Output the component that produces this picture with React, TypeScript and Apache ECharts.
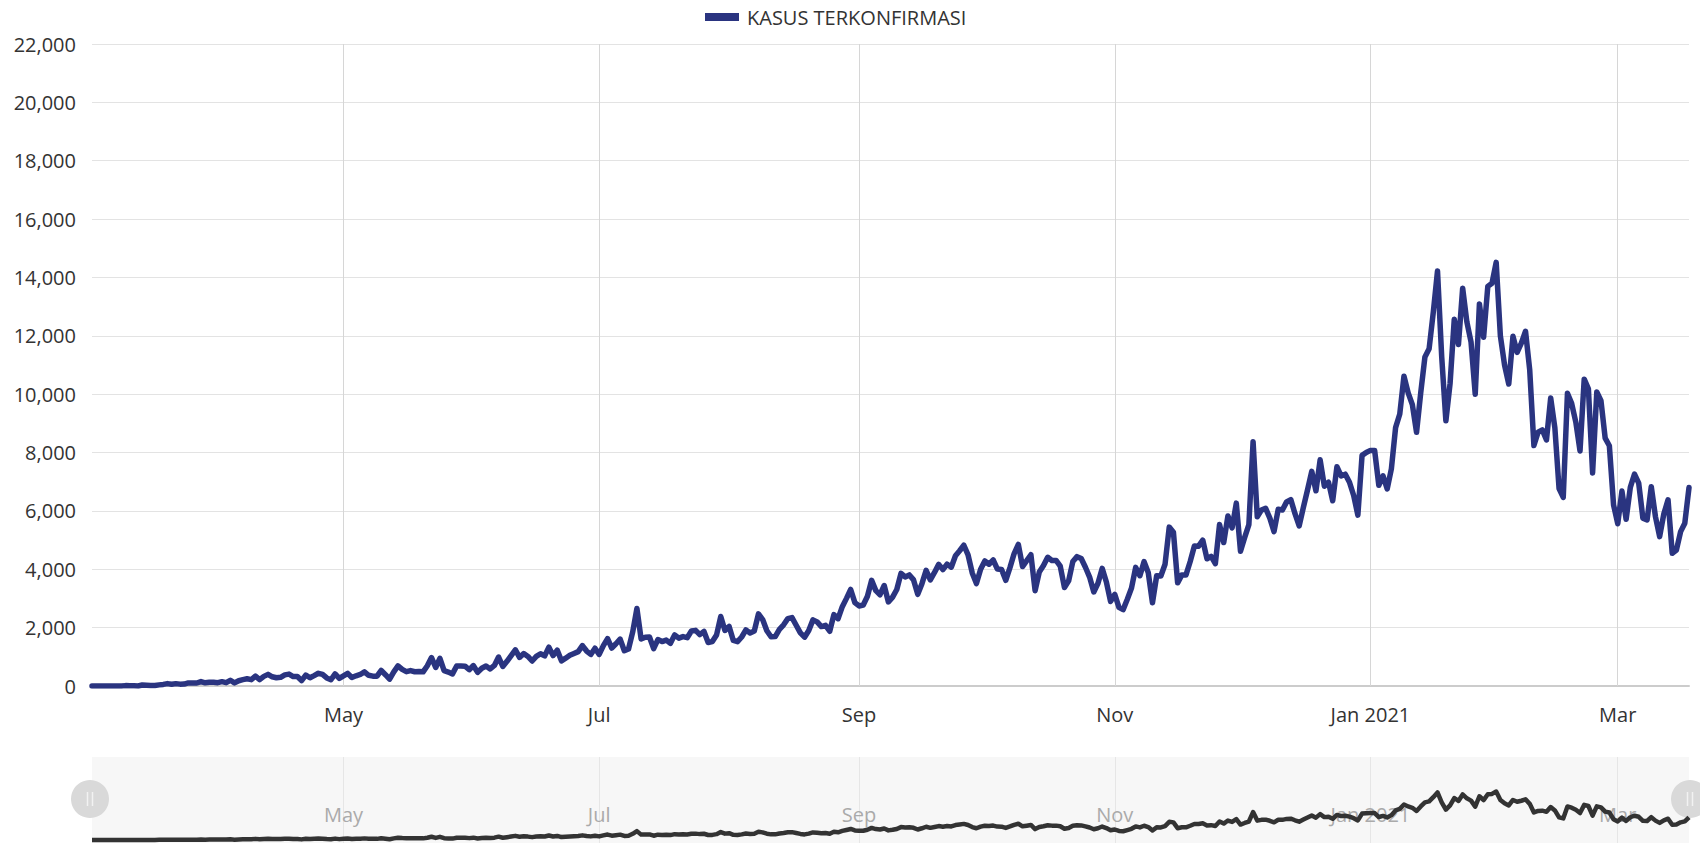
import React, { useEffect, useRef } from 'react';
import * as echarts from 'echarts';

const seriesName = 'KASUS TERKONFIRMASI';

// Daily confirmed cases, one array per month (picture dates)
const mar2020 = [0, 2, 0, 0, 0, 2, 0, 2, 13, 8, 7, 0, 35, 27, 21, 17, 38, 55, 82, 60, 81, 64, 65, 107, 104, 103, 153, 109, 130, 129];
const apr2020 = [114, 149, 113, 196, 106, 181, 218, 247, 218, 337, 219, 330, 399, 316, 282, 297, 380, 407, 325, 327, 185, 375, 283, 357, 436, 396, 275, 214, 415, 260];
const may2020 = [347, 433, 292, 349, 395, 484, 367, 338, 336, 533, 387, 233, 484, 689, 568, 490, 529, 489, 496, 486, 693, 973, 634, 949, 526, 479, 415, 686, 687, 678, 557];
const jun2020 = [700, 467, 609, 684, 585, 703, 993, 672, 847, 1043, 1241, 979, 1111, 1014, 857, 1017, 1106, 1031, 1331, 1041, 1226, 862, 954, 1051, 1113, 1178, 1385, 1198, 1082, 1293];
const jul2020 = [1082, 1385, 1624, 1301, 1447, 1607, 1209, 1268, 1853, 2657, 1611, 1671, 1681, 1282, 1591, 1522, 1574, 1462, 1752, 1639, 1693, 1655, 1882, 1906, 1761, 1868, 1492, 1525, 1748, 2381, 1904];
const aug2020 = [2040, 1560, 1519, 1679, 1922, 1815, 1882, 2473, 2277, 1893, 1687, 1693, 1942, 2098, 2307, 2345, 2081, 1821, 1673, 1902, 2266, 2197, 2037, 2079, 1877, 2447, 2306, 2719, 3003, 3308, 2858];
const sep2020 = [2743, 2775, 3075, 3622, 3269, 3128, 3444, 2880, 3046, 3307, 3861, 3737, 3806, 3636, 3141, 3507, 3963, 3635, 3891, 4168, 3989, 4176, 4071, 4465, 4634, 4823, 4494, 3874, 3509, 4002];
const oct2020 = [4284, 4174, 4317, 4007, 3992, 3622, 4056, 4538, 4850, 4094, 4294, 4497, 3267, 3906, 4127, 4411, 4301, 4301, 4105, 3373, 3602, 4267, 4432, 4369, 4070, 3732, 3222, 3520, 4029, 3565, 2897];
const nov2020 = [3143, 2696, 2618, 2973, 3356, 4065, 3778, 4262, 3880, 2853, 3779, 3770, 4173, 5444, 5272, 3535, 3807, 3807, 4265, 4798, 4792, 4998, 4360, 4442, 4192, 5534, 4917, 5828, 5418, 6267];
const dec2020 = [4617, 5092, 5533, 8369, 5803, 6027, 6089, 5754, 5292, 6058, 6033, 6310, 6388, 5905, 5489, 6120, 6725, 7354, 6689, 7751, 6848, 6982, 6347, 7514, 7199, 7259, 6982, 6528, 5854, 7903, 8002];
const jan2021 = [8074, 8072, 6877, 7203, 6753, 7445, 8854, 9321, 10617, 10046, 9640, 8692, 10047, 11278, 11557, 12818, 14224, 11287, 9086, 10365, 12568, 11703, 13632, 12482, 11788, 9994, 13094, 11948, 13695, 13802, 14518];
const feb2021 = [12001, 10994, 10347, 11984, 11434, 11749, 12156, 10827, 8242, 8700, 8776, 8435, 9869, 8844, 6765, 6462, 10029, 9687, 9039, 8054, 10514, 10184, 7300, 10074, 9775, 8493, 8232, 6208];
const mar2021 = [5560, 6680, 5712, 6808, 7264, 6950, 5750, 5690, 6830, 5800, 5120, 5900, 6380, 4550, 4660, 5290, 5580, 6800];

// month blocks: [year, monthIndex, first day, values]
const monthBlocks: [number, number, number, number[]][] = [
  [2020, 2, 2, mar2020],
  [2020, 3, 1, apr2020],
  [2020, 4, 1, may2020],
  [2020, 5, 1, jun2020],
  [2020, 6, 1, jul2020],
  [2020, 7, 1, aug2020],
  [2020, 8, 1, sep2020],
  [2020, 9, 1, oct2020],
  [2020, 10, 1, nov2020],
  [2020, 11, 1, dec2020],
  [2021, 0, 1, jan2021],
  [2021, 1, 1, feb2021],
  [2021, 2, 1, mar2021],
];

const xTickDates: [number, number, number][] = [
  [2020, 4, 1], [2020, 6, 1], [2020, 8, 1], [2020, 10, 1], [2021, 0, 1], [2021, 2, 1],
];
const xTickLabels = ['May', 'Jul', 'Sep', 'Nov', 'Jan 2021', 'Mar'];

const FONT = '"Open Sans", "Noto Sans", sans-serif';

export default function App() {
  const ref = useRef<HTMLDivElement>(null);

  useEffect(() => {
    if (!ref.current) return;
    const chart = echarts.init(ref.current, undefined, { renderer: 'svg' });

    const data: [number, number][] = [];
    monthBlocks.forEach(([y, m, d0, vals]) => {
      vals.forEach((v, i) => {
        data.push([new Date(y, m, d0 + i).getTime(), v]);
      });
    });
    const tMin = data[0][0];
    const tMax = data[data.length - 1][0];
    const tickTs = xTickDates.map(([y, m, d]) => new Date(y, m, d).getTime());

    const monthLines = (labelColor: string, lineColor: string, labelOffsetY: number) => ({
      silent: true,
      symbol: 'none',
      animation: false,
      lineStyle: { type: 'solid', color: lineColor, width: 1 },
      emphasis: { disabled: true },
      label: { show: false },
      data: tickTs.map((t, i) => ({
        xAxis: t,
        label: {
          show: true,
          position: 'start',
          formatter: xTickLabels[i],
          color: labelColor,
          fontSize: 20,
          fontFamily: FONT,
          distance: 0,
          offset: [0, labelOffsetY],
        },
      })),
    });

    chart.setOption({
      animation: false,
      backgroundColor: '#ffffff',
      textStyle: { fontFamily: FONT },
      legend: {
        data: [seriesName],
        left: 700,
        top: 2,
        icon: 'rect',
        itemWidth: 34,
        itemHeight: 8,
        textStyle: { fontSize: 20, color: '#333333', fontFamily: FONT, padding: [0, 0, 0, 3] },
      },
      grid: [
        { left: 92, right: 11, top: 44, height: 642, containLabel: false },
        {
          left: 92, right: 11, top: 757, height: 86, show: true,
          backgroundColor: '#f7f7f7', borderWidth: 0,
        },
      ],
      xAxis: [
        {
          type: 'value',
          gridIndex: 0,
          min: tMin,
          max: tMax,
          axisLine: { show: true, onZero: false, lineStyle: { color: '#cccccc', width: 2 } },
          axisTick: { show: false },
          axisLabel: { show: false },
          splitLine: { show: false },
        },
        {
          type: 'value',
          gridIndex: 1,
          min: tMin,
          max: tMax,
          axisLine: { show: false },
          axisTick: { show: false },
          axisLabel: { show: false },
          splitLine: { show: false },
        },
      ],
      yAxis: [
        {
          type: 'value',
          gridIndex: 0,
          min: 0,
          max: 22000,
          interval: 2000,
          axisLine: { show: false },
          axisTick: { show: false },
          axisLabel: {
            fontSize: 20,
            color: '#333333',
            fontFamily: FONT,
            margin: 16,
            formatter: (v: number) => v.toLocaleString('en-US'),
          },
          splitLine: { show: true, lineStyle: { color: '#e3e3e3', width: 1 } },
        },
        {
          type: 'value',
          gridIndex: 1,
          min: -900,
          max: 24850,
          show: false,
          splitLine: { show: false },
        },
      ],
      series: [
        {
          name: seriesName,
          type: 'line',
          xAxisIndex: 0,
          yAxisIndex: 0,
          data,
          showSymbol: false,
          symbol: 'none',
          lineStyle: { color: '#2a3480', width: 5.5, join: 'round', cap: 'round' },
          itemStyle: { color: '#2a3480' },
          markLine: { ...monthLines('#333333', '#d6d6d6', 18), z: 1 },
          z: 3,
        },
        {
          name: 'overview',
          type: 'line',
          xAxisIndex: 1,
          yAxisIndex: 1,
          data,
          showSymbol: false,
          symbol: 'none',
          lineStyle: { color: '#333333', width: 4.5, join: 'round' },
          itemStyle: { color: '#333333' },
          markLine: { ...monthLines('#aaaaaa', '#e6e6e6', -39), z: 1 },
          z: 3,
        },
      ],
      graphic: [
        {
          type: 'group',
          left: 71,
          top: 780,
          z: 10,
          children: [
            { type: 'circle', shape: { cx: 19, cy: 19, r: 19 }, style: { fill: '#d9d9d9' } },
            { type: 'line', shape: { x1: 16.5, y1: 12, x2: 16.5, y2: 26 }, style: { stroke: '#f2f2f2', lineWidth: 1.5 } },
            { type: 'line', shape: { x1: 21.5, y1: 12, x2: 21.5, y2: 26 }, style: { stroke: '#f2f2f2', lineWidth: 1.5 } },
          ],
        },
        {
          type: 'group',
          left: 1671,
          top: 780,
          z: 10,
          children: [
            { type: 'circle', shape: { cx: 19, cy: 19, r: 19 }, style: { fill: '#d9d9d9' } },
            { type: 'line', shape: { x1: 16.5, y1: 12, x2: 16.5, y2: 26 }, style: { stroke: '#f2f2f2', lineWidth: 1.5 } },
            { type: 'line', shape: { x1: 21.5, y1: 12, x2: 21.5, y2: 26 }, style: { stroke: '#f2f2f2', lineWidth: 1.5 } },
          ],
        },
      ],
    });

    return () => chart.dispose();
  }, []);

  return (
    <div
      ref={ref}
      style={{ position: 'fixed', left: 0, top: 0, width: 1700, height: 843, background: '#fff' }}
    />
  );
}
